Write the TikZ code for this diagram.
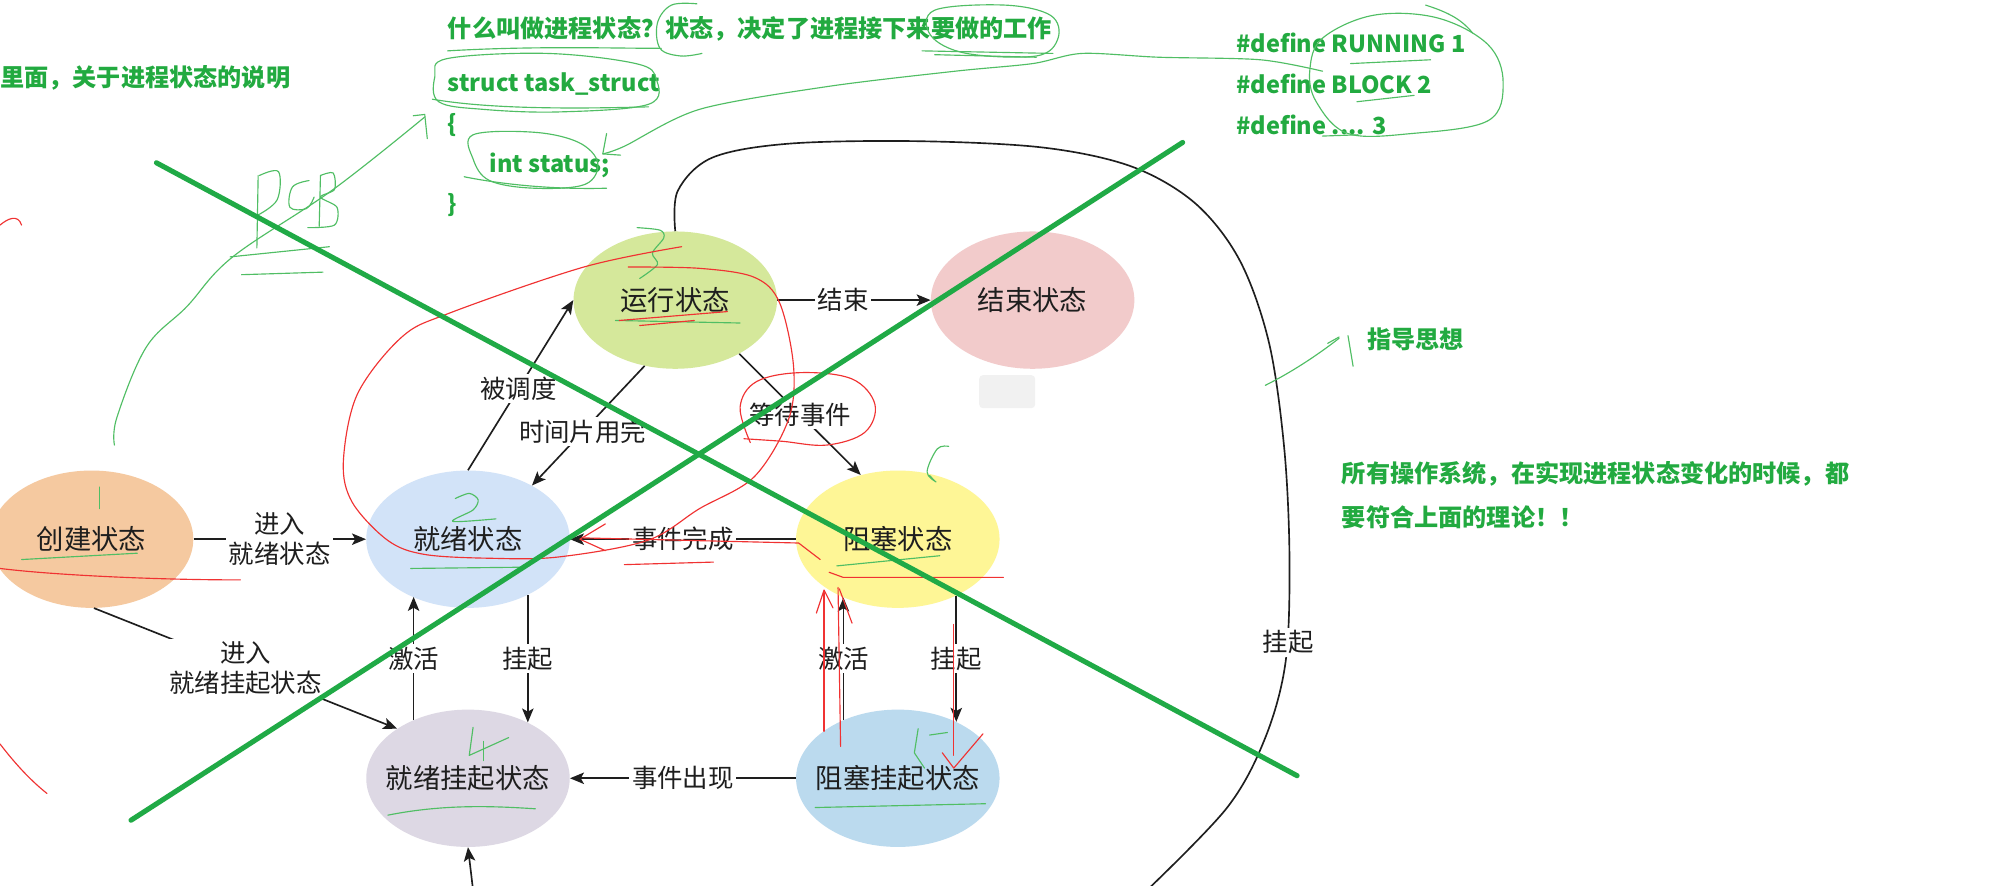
\documentclass[tikz,border=0pt]{standalone}
\usepackage{fontspec}
\setmainfont{Noto Sans CJK SC}
\usetikzlibrary{shapes.geometric,arrows.meta}
\definecolor{cCreate}{RGB}{245,201,160}
\definecolor{cReady}{RGB}{210,227,248}
\definecolor{cRun}{RGB}{213,232,155}
\definecolor{cEnd}{RGB}{242,203,203}
\definecolor{cBlock}{RGB}{254,246,150}
\definecolor{cRsus}{RGB}{221,216,228}
\definecolor{cBsus}{RGB}{187,218,238}
\definecolor{cGray}{RGB}{241,241,241}
\definecolor{cInk}{RGB}{30,30,30}
\definecolor{gText}{RGB}{34,170,64}
\definecolor{gBig}{RGB}{32,170,70}
\definecolor{hGreen}{RGB}{80,190,100}
\definecolor{hRed}{RGB}{240,50,50}
\newcommand{\zw}[1]{\makebox[0pt][c]{#1}}
\begin{document}
\begin{tikzpicture}[x=1pt,y=-1pt,
 state/.style={ellipse, minimum width=160pt, minimum height=108pt, inner sep=0pt, font=\fontsize{21.5}{25}\selectfont, text=cInk},
 arr/.style={-{Stealth[length=11pt,width=9pt,inset=2.5pt]}, line width=1.3pt, draw=cInk},
 ln/.style={line width=1.3pt, draw=cInk},
 lbl/.style={fill=white, inner sep=2pt, font=\fontsize{20}{24}\selectfont, text=cInk, align=center},
 gtext/.style={text=gText, font=\bfseries\fontsize{19}{22}\selectfont, inner sep=0pt, anchor=west},
 gcode/.style={text=gText, font=\bfseries\fontsize{18.5}{22}\selectfont, inner sep=0pt, anchor=west},
 bigx/.style={line width=4pt, draw=gBig, line cap=round},
 hg/.style={draw=hGreen, line width=0.9pt, line cap=round, line join=round},
 hr/.style={draw=hRed, line width=0.9pt, line cap=round, line join=round},
]
\useasboundingbox (0,0) rectangle (1568,696);
\fill[white] (0,0) rectangle (1568,696);

% states
\node[state, fill=cCreate] (create) at (72,424) {\zw{创建状态}};
\node[state, fill=cReady] (ready) at (368,424) {\zw{就绪状态}};
\node[state, fill=cRun] (run) at (531,236) {\zw{运行状态}};
\node[state, fill=cEnd] (fin) at (812,236) {\zw{结束状态}};
\node[state, fill=cBlock] (block) at (706,424) {\zw{阻塞状态}};
\node[state, fill=cRsus] (rsus) at (368,612) {\zw{就绪挂起状态}};
\node[state, fill=cBsus] (bsus) at (706,612) {\zw{阻塞挂起状态}};
\node[fill=cGray, rounded corners=3pt, minimum width=44pt, minimum height=26pt, inner sep=0pt] (blank) at (792,308) {};

% transitions
\draw[arr] (run.east) -- node[lbl, pos=0.43]{结束} (fin.west);
\draw[arr] (ready.north) -- node[lbl, pos=0.48]{被调度} (run.west);
\draw[arr] (run.245) -- node[lbl, pos=0.55]{时间片用完} (ready.40);
\draw[arr] (run.-40) -- node[lbl]{等待事件} (block.120);
\draw[arr] (block.west) -- node[lbl]{事件完成} (ready.east);
\draw[arr] (create.east) -- node[lbl]{进入\\就绪状态} (ready.west);
\draw[arr] (create.-88) -- node[lbl, pos=0.5]{进入\\就绪挂起状态} (rsus.145);
\draw[arr] (rsus.133) -- node[lbl]{激活} (rsus.133 |- ready.-134);
\draw[arr] (ready.-43) -- node[lbl]{挂起} (ready.-43 |- rsus.43);
\draw[arr] (bsus.133) -- node[lbl]{激活} (bsus.133 |- block.-133);
\draw[arr] (block.-44) -- node[lbl]{挂起} (block.-44 |- bsus.44);
\draw[arr] (bsus.west) -- node[lbl]{事件出现} (rsus.east);

% big suspend loop
\coordinate (offb) at (902,700);
\draw[ln] plot[smooth, tension=0.55] coordinates {(run.north) (533,150) (560,124) (620,113) (720,111) (820,116) (890,131) (940,160) (975,205) (998,270) (1010,354) (1014,440) (1011,520) (995,580) (965,635) (offb)};
\node[lbl] (hangR) at (1013,505) {挂起};
\coordinate (offa) at (372,700);
\draw[arr] (offa) -- (rsus.south);

% green texts
\node[gtext] (g1) at (0,61) {里面，关于进程状态的说明};
\node[gtext] (g2) at (352,23) {什么叫做进程状态？状态，决定了进程接下来要做的工作};
\node[gcode] (g3) at (352,66) {struct task\_struct};
\node[gcode] (g4) at (352,98) {\{};
\node[gcode] (g5) at (385,130) {int status;};
\node[gcode] (g6) at (352,161) {\}};
\node[gcode] (g7) at (972,34) {\#define RUNNING 1};
\node[gcode] (g8) at (972,66) {\#define BLOCK 2};
\node[gcode] (g9) at (972,98) {\#define .... 3};
\node[gtext] (g10) at (1075,267) {指导思想};
\node[gtext] (g11) at (1055,373) {所有操作系统，在实现进程状态变化的时候，都};
\node[gtext] (g12) at (1055,407) {要符合上面的理论！！};

% green handwriting
\draw[hg] (352,40) .. controls (420,36) and (480,38) .. (520,38);
\draw[hg] plot[smooth, tension=0.6] coordinates {(548,3) (528,4) (517,18) (519,38) (535,44) (552,42)};
\draw[hg] plot[smooth cycle, tension=0.6] coordinates {(735,8) (790,4) (826,12) (832,30) (815,44) (760,42) (732,28)};
\draw[hg] (725,40) -- (828,42);
\draw[hg] (735,43) -- (815,45);
\draw[hg] plot[smooth cycle, tension=0.6] coordinates {(352,46) (430,42) (500,50) (516,62) (510,82) (440,88) (380,86) (345,80) (342,60)};
\draw[hg] (340,78) .. controls (380,85) and (440,86) .. (510,84);
\draw[hg] plot[smooth cycle, tension=0.6] coordinates {(372,106) (420,104) (455,112) (470,128) (460,145) (420,148) (385,142) (372,125)};
\draw[hg] (365,139) .. controls (400,146) and (440,149) .. (477,148);
\draw[hg] plot[smooth, tension=0.5] coordinates {(1040,56) (991,47) (911,45) (851,42) (812,50) (751,56) (651,68) (550,86) (491,115) (474,121)};
\draw[hg] (477,105) -- (474,121) -- (488,122);
\draw[hg] plot[smooth cycle, tension=0.6] coordinates {(1040,30) (1080,12) (1130,14) (1170,35) (1182,65) (1170,95) (1110,105) (1060,105) (1035,80) (1030,55)};
\draw[hg] (1121,4) .. controls (1140,10) and (1150,16) .. (1158,26);
\draw[hg] (1062,50) -- (1125,47);
\draw[hg] (1067,80) -- (1112,75);
\draw[hg] (1040,107) -- (1068,106);
% PCB
\draw[hg] (203,138) -- (202,195);
\draw[hg] plot[smooth, tension=0.6] coordinates {(204,138) (219,135) (218,157) (203,169)};
\draw[hg] plot[smooth, tension=0.6] coordinates {(243,142) (230,147) (228,163) (241,164) (247,155)};
\draw[hg] (252,138) -- (251,178);
\draw[hg] plot[smooth, tension=0.5] coordinates {(252,138) (262,136) (263,149) (252,155) (265,163) (263,177) (242,179)};
\draw[hg] (181,202) -- (259,194);
\draw[hg] (190,216) -- (254,214);
\draw[hg] plot[smooth, tension=0.6] coordinates {(90,350) (92,328) (115,273) (147,241) (183,202) (262,149) (334,92)};
\draw[hg] (325,91) -- (334,90) -- (336,109);
% 指导思想 arrow
\draw[hg] (995,303) .. controls (1015,293) and (1035,280) .. (1053,266);
\draw[hg] (1044,270) -- (1053,265);
\draw[hg] (1060,264) -- (1064,288);
% numbers
\draw[hg] (78,383) -- (78,400);
\draw[hg] plot[smooth, tension=0.5] coordinates {(358,392) (369,388) (376,393) (372,401) (356,410) (390,408)};
\draw[hg] plot[smooth, tension=0.5] coordinates {(501,179) (519,181) (522,187) (513,199) (517,208) (503,219)};
\draw[hg] (372,572) -- (369,594) -- (400,580);
\draw[hg] (380,583) -- (380,598);
\draw[hg] (722,573) -- (719,592) -- (727,604);
\draw[hg] (731,578) -- (745,576);
\draw[hg] plot[smooth, tension=0.6] coordinates {(746,351) (737,353) (729,371) (736,379) (731,374)};
% underlines
\draw[hg] (17,440) -- (108,435);
\draw[hg] (323,447) -- (413,446);
\draw[hg] (484,252) -- (582,254);
\draw[hg] (658,445) -- (739,437);
\draw[hg] (305,641) .. controls (350,632) and (390,634) .. (421,636);
\draw[hg] (641,635) -- (775,632);

% red handwriting
\draw[hr] plot[smooth, tension=0.55] coordinates {(536,194) (459,210) (354,246) (316,265) (281,310) (270,363) (277,395) (305,425) (334,436) (386,439) (439,438) (509,425) (550,400) (593,375) (620,330) (624,288) (613,238) (593,218) (550,211) (494,210)};
\draw[hr] (459,423) -- (628,427) -- (645,440);
\draw[hr] (652,450) -- (663,454) -- (789,454);
\draw[hr] (476,412) -- (456,424) -- (476,433);
\draw[hr] (491,444) -- (561,442);
\draw[hr] plot[smooth, tension=0.6] coordinates {(590,348) (582,320) (595,300) (630,293) (670,298) (688,318) (680,340) (650,350) (615,347) (585,345)};
\draw[hr] (648,466) -- (648,575);
\draw[hr] (659,462) -- (661,587);
\draw[hr] (642,482) -- (648,464) -- (655,478);
\draw[hr] (660,463) -- (670,490);
\draw[hr] (750,491) -- (750,594);
\draw[hr] (741,592) -- (750,604) -- (773,577);
\draw[hr] (487,252) -- (572,245);
\draw[hr] (503,256) -- (546,252);
\draw[hr] (0,447) .. controls (40,452) and (120,456) .. (189,456);
\draw[hr] (0,177) .. controls (6,172) and (14,168) .. (17,177);
\draw[hr] (0,585) .. controls (10,598) and (22,612) .. (37,624);

% big green cross
\draw[bigx] (123,128) -- (1020,610);
\draw[bigx] (103,645) -- (930,112);
\end{tikzpicture}
\end{document}
